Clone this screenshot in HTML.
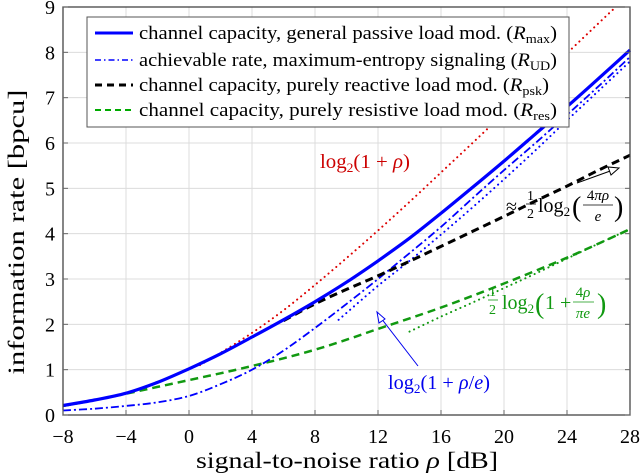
<!DOCTYPE html>
<html><head><meta charset="utf-8"><style>
html,body{margin:0;padding:0;background:#fff;}
svg{display:block;font-family:"Liberation Serif",serif;}
</style></head><body>
<svg id="chart" width="640" height="475" viewBox="0 0 640 475">
<g id="grid"></g>
<g id="series"></g>
<rect x="63" y="7" width="567" height="408" fill="none" stroke="#444" stroke-width="1.3"/>
<g id="ticks"></g>
<text x="347" y="468" font-size="23" text-anchor="middle" textLength="302" lengthAdjust="spacingAndGlyphs">signal-to-noise ratio <tspan font-style="italic">ρ</tspan>  [dB]</text>
<text transform="translate(24,232) rotate(-90)" font-size="23" text-anchor="middle" textLength="285" lengthAdjust="spacingAndGlyphs">information rate [bpcu]</text>

<g>
<rect x="87" y="17" width="482" height="110" fill="#fff" stroke="#555" stroke-width="1"/>
<g>
<line x1="95" y1="33" x2="133" y2="33" stroke="#0000ff" stroke-width="3"/>
<text x="139" y="39" font-size="19" textLength="418" lengthAdjust="spacingAndGlyphs">channel capacity, general passive load mod. (<tspan font-style="italic">R</tspan><tspan font-size="13" dy="4">max</tspan><tspan dy="-4">)</tspan></text></g>
<g>
<line x1="95" y1="60" x2="133" y2="60" stroke="#0000ff" stroke-width="1.5" stroke-dasharray="6,3,1.5,3"/>
<text x="139" y="66" font-size="19" textLength="418" lengthAdjust="spacingAndGlyphs">achievable rate, maximum-entropy signaling (<tspan font-style="italic">R</tspan><tspan font-size="13" dy="4">UD</tspan><tspan dy="-4">)</tspan></text></g>
<g>
<line x1="95" y1="85" x2="133" y2="85" stroke="#000" stroke-width="3" stroke-dasharray="7,5"/>
<text x="139" y="91" font-size="19" textLength="410" lengthAdjust="spacingAndGlyphs">channel capacity, purely reactive load mod. (<tspan font-style="italic">R</tspan><tspan font-size="13" dy="4">psk</tspan><tspan dy="-4">)</tspan></text></g>
<g>
<line x1="95" y1="110" x2="133" y2="110" stroke="#00aa00" stroke-width="2" stroke-dasharray="6,4"/>
<text x="139" y="116" font-size="19" textLength="418" lengthAdjust="spacingAndGlyphs">channel capacity, purely resistive load mod. (<tspan font-style="italic">R</tspan><tspan font-size="13" dy="4">res</tspan><tspan dy="-4">)</tspan></text></g>
</g>

<g fill="#cc0000">
<text x="320" y="168" font-size="20" textLength="90" lengthAdjust="spacingAndGlyphs">log<tspan font-size="13" dy="4">2</tspan><tspan dy="-4">(1 + </tspan><tspan font-style="italic">ρ</tspan>)</text></g>

<g>
<line x1="577" y1="183" x2="613" y2="170" stroke="#000" stroke-width="1"/>
<polygon points="619,168 608,167 611,175" fill="#fff" stroke="#000" stroke-width="1"/>
<text x="506" y="213" font-size="20">≈</text>
<text x="527" y="200" font-size="14">1</text><line x1="526" y1="204" x2="536" y2="204" stroke="#000" stroke-width="0.8"/><text x="527" y="218" font-size="14">2</text>
<text x="538" y="212" font-size="20">log<tspan font-size="13" dy="4">2</tspan></text>
<text x="572" y="216" font-size="28">(</text>
<text x="598" y="200" font-size="15" text-anchor="middle">4<tspan font-style="italic">πρ</tspan></text>
<line x1="583" y1="205" x2="613" y2="205" stroke="#000" stroke-width="0.8"/>
<text x="598" y="221" font-size="15" text-anchor="middle" font-style="italic">e</text>
<text x="614" y="216" font-size="28">)</text>
</g>

<g fill="#119911">
<text x="489" y="296" font-size="14">1</text><line x1="488" y1="300" x2="498" y2="300" stroke="#119911" stroke-width="0.8"/><text x="489" y="314" font-size="14">2</text>
<text x="502" y="309" font-size="20">log<tspan font-size="13" dy="4">2</tspan></text>
<text x="535" y="313" font-size="28">(</text>
<text x="545" y="309" font-size="20">1 +</text>
<text x="583" y="297" font-size="15" text-anchor="middle">4<tspan font-style="italic">ρ</tspan></text>
<line x1="573" y1="302" x2="594" y2="302" stroke="#119911" stroke-width="0.8"/>
<text x="583" y="318" font-size="15" text-anchor="middle" font-style="italic">πe</text>
<text x="597" y="313" font-size="28">)</text>
</g>

<g fill="#0000ee">
<line x1="418" y1="366" x2="381" y2="318" stroke="#0000ee" stroke-width="1"/>
<polygon points="377,312 379,323 385,319" fill="#fff" stroke="#0000ee" stroke-width="1"/>
<text x="388" y="389" font-size="20" textLength="102" lengthAdjust="spacingAndGlyphs">log<tspan font-size="13" dy="4">2</tspan><tspan dy="-4">(1 + </tspan><tspan font-style="italic">ρ</tspan>/<tspan font-style="italic">e</tspan>)</text>
</g>
</svg>
<script>
const xTicks = [-8,-4,0,4,8,12,16,20,24,28];
const yTicks = [0,1,2,3,4,5,6,7,8,9];
const snrGrid = [-8,-6,-4,-2,0,2,4,6,8,10,12,14,16,18,20,22,24,26,28];
const rMax = [0.21,0.33,0.48,0.72,1.02,1.35,1.72,2.1,2.5,2.93,3.4,3.9,4.45,5.02,5.6,6.2,6.8,7.42,8.05];
const rUD  = [0.1,0.14,0.2,0.28,0.42,0.68,1.0,1.42,1.92,2.45,3.0,3.57,4.15,4.78,5.4,6.0,6.62,7.25,7.9];
const pskSnr = [6,8,10,12,14,16,18,20,22,24,26,28];
const rPsk = [2.08,2.45,2.77,3.07,3.39,3.72,4.05,4.38,4.72,5.05,5.4,5.73];
const rRes = [0.2,0.33,0.47,0.62,0.77,0.92,1.08,1.25,1.44,1.66,1.9,2.13,2.37,2.63,2.9,3.18,3.47,3.78,4.1];
const shannonSnr = [0.7,2,4,6,8,10,12,14,16,18,20,22,24,26,27.1];
const rShannon = [1.1,1.37,1.81,2.31,2.87,3.46,4.07,4.7,5.35,6.0,6.66,7.32,7.98,8.64,9.0];
const udApproxSnr = [9.5,12,14,16,18,20,22,24,26,28];
const rUdApprox = [2.1,2.85,3.4,3.98,4.58,5.2,5.84,6.5,7.15,7.8];
const resApproxSnr = [14,16,18,20,22,24,26,28];
const rResApprox = [1.84,2.17,2.48,2.8,3.12,3.45,3.78,4.1];

const X0=63,X1=630,Y0=415,Y1=7;
function xs(v){return X0+(v+8)/36*(X1-X0);}
function ys(v){return Y0-v/9*(Y0-Y1);}
const NS='http://www.w3.org/2000/svg';
const grid=document.getElementById('grid'),ticks=document.getElementById('ticks'),ser=document.getElementById('series');
function mk(tag,attrs,parent){const e=document.createElementNS(NS,tag);for(const k in attrs)e.setAttribute(k,attrs[k]);parent.appendChild(e);return e;}
xTicks.forEach(t=>{
  const g=mk('line',{x1:xs(t),x2:xs(t),y1:Y1,y2:Y0,stroke:'#dcdcdc','stroke-width':1},grid);
  
  
  const tk=mk('line',{x1:xs(t),x2:xs(t),y1:Y0,y2:Y0-5,stroke:'#666','stroke-width':1},ticks);
  
  
  const tx=mk('text',{x:xs(t),y:443,'font-size':20,'text-anchor':'middle'},ticks);
  tx.textContent=t<0?'\u2212'+(-t):String(t);
  
  
});
yTicks.forEach(t=>{
  const g=mk('line',{x1:X0,x2:X1,y1:ys(t),y2:ys(t),stroke:'#dcdcdc','stroke-width':1},grid);
  
  
  const tk=mk('line',{x1:X0,x2:X0+5,y1:ys(t),y2:ys(t),stroke:'#666','stroke-width':1},ticks);
  
  
  const tk2=mk('line',{x1:X1,x2:X1-5,y1:ys(t),y2:ys(t),stroke:'#666','stroke-width':1},ticks);
  
  
  const tx=mk('text',{x:X0-8,y:ys(t)+7,'font-size':20,'text-anchor':'end'},ticks);
  tx.textContent=String(t);
  
  
});
function line(xa,ya,style,name){
  const P=xa.map((v,i)=>[xs(v),ys(ya[i])]);
  let d='M'+P[0][0].toFixed(1)+','+P[0][1].toFixed(1);
  for(let i=0;i<P.length-1;i++){
    const p0=P[Math.max(0,i-1)],p1=P[i],p2=P[i+1],p3=P[Math.min(P.length-1,i+2)];
    const c1=[p1[0]+(p2[0]-p0[0])/6,p1[1]+(p2[1]-p0[1])/6];
    const c2=[p2[0]-(p3[0]-p1[0])/6,p2[1]-(p3[1]-p1[1])/6];
    d+=' C'+c1.map(n=>n.toFixed(1)).join(',')+' '+c2.map(n=>n.toFixed(1)).join(',')+' '+p2.map(n=>n.toFixed(1)).join(',');
  }
  const p=mk('path',Object.assign({d:d,fill:'none'},style),ser);
  
  
}
line(shannonSnr,rShannon,{stroke:'#dd0000','stroke-width':2,'stroke-dasharray':'0.1,5','stroke-linecap':'round'},'shannon-bound-line');
line(resApproxSnr,rResApprox,{stroke:'#119911','stroke-width':2,'stroke-dasharray':'0.1,5','stroke-linecap':'round'},'res-approx-line');
line(udApproxSnr,rUdApprox,{stroke:'#0000ff','stroke-width':2,'stroke-dasharray':'0.1,5','stroke-linecap':'round'},'ud-approx-line');
line(snrGrid,rRes,{stroke:'#119911','stroke-width':2.5,'stroke-dasharray':'8,5'},'rres-line');
line(snrGrid,rUD,{stroke:'#0000ff','stroke-width':1.8,'stroke-dasharray':'8,3,2,3'},'rud-line');
line(pskSnr,rPsk,{stroke:'#000','stroke-width':3,'stroke-dasharray':'8,5'},'rpsk-line');
line(snrGrid,rMax,{stroke:'#0000ff','stroke-width':3.2},'rmax-line');
</script>
</body></html>
